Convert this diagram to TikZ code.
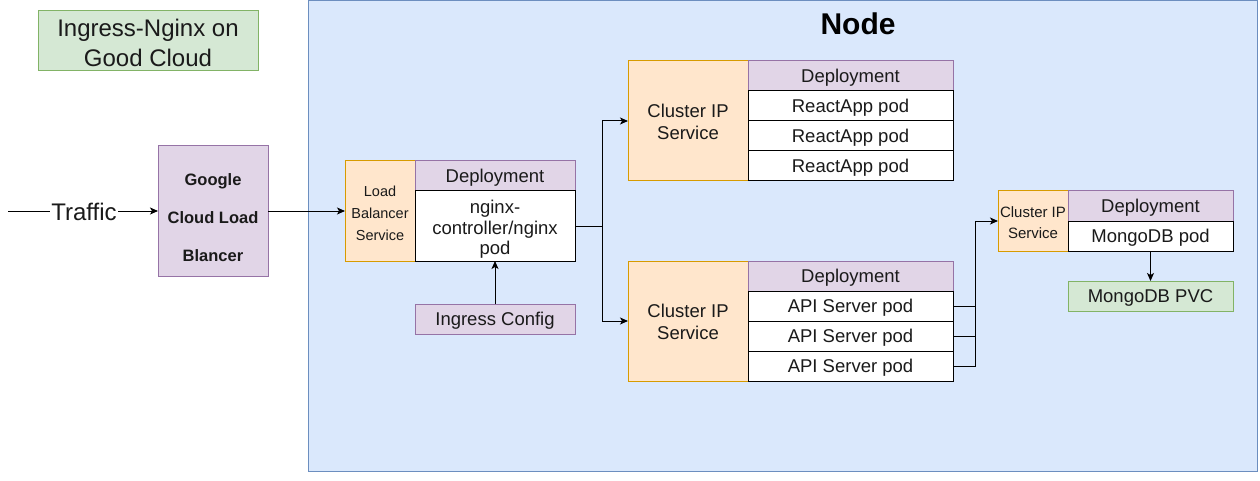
\documentclass[tikz,border=0pt]{standalone}
\usepackage{fontspec}
\setmainfont{Liberation Sans}
\usetikzlibrary{arrows.meta}
\definecolor{nodefill}{HTML}{DAE8FC}
\definecolor{nodeline}{HTML}{6C8EBF}
\definecolor{greenfill}{HTML}{D5E8D4}
\definecolor{greenline}{HTML}{82B366}
\definecolor{purplefill}{HTML}{E1D5E7}
\definecolor{purpleline}{HTML}{9673A6}
\definecolor{orangefill}{HTML}{FFE6CC}
\definecolor{orangeline}{HTML}{D79B00}
\definecolor{txt}{HTML}{1A1A1A}
\tikzset{
  base/.style={rectangle, inner sep=0pt, outer sep=0pt, anchor=north west, line width=1pt,
    align=center, text=txt, font=\fontsize{18.5}{21}\selectfont, text height=17.5pt},
  greenbox/.style={base, fill=greenfill, draw=greenline},
  purplebox/.style={base, fill=purplefill, draw=purpleline},
  orangebox/.style={base, fill=orangefill, draw=orangeline},
  podbox/.style={base, fill=white, draw=black},
  conn/.style={line width=1pt, draw=black, -{Stealth[length=8pt,width=7pt,inset=2pt]}},
  wire/.style={line width=1pt, draw=black},
}
\begin{document}
\begin{tikzpicture}[x=1pt,y=-1pt]
\useasboundingbox (0,0) rectangle (1260,481);
\fill[white] (0,0) rectangle (1260,481);
% container
\node[base, fill=nodefill, draw=nodeline, minimum width=949pt, minimum height=470pt] (nodebox) at (308,1) {};
\node[text=black, font=\fontsize{30}{34}\bfseries\selectfont] (nodetitle) at (858,24) {Node};
% title
\node[greenbox, minimum width=220pt, minimum height=60pt, font=\fontsize{24}{30}\selectfont, text height=50.5pt] (title) at (38,11) {Ingress-Nginx on\\Good Cloud};
% google
\node[purplebox, minimum width=110pt, minimum height=130pt, font=\fontsize{16.5}{38}\bfseries\selectfont, text height=102pt] (google) at (158,146) {Google\\Cloud Load\\Blancer};
% LB service + deployment
\node[orangebox, minimum width=70pt, minimum height=100pt, font=\fontsize{14.5}{22}\selectfont, text height=58.6pt] (lbsvc) at (345,161) {Load\\Balancer\\Service};
\node[purplebox, minimum width=160pt, minimum height=30pt] (dep0) at (415,161) {Deployment};
\node[podbox, minimum width=160pt, minimum height=70pt, font=\fontsize{18.5}{20.5}\selectfont, text height=61pt] (nginxpod) at (415,191) {nginx-\\controller/nginx\\pod};
\node[purplebox, minimum width=160pt, minimum height=30pt] (ingress) at (415,304) {Ingress Config};
% cluster IP 1
\node[orangebox, minimum width=120pt, minimum height=120pt, font=\fontsize{18.5}{22}\selectfont, text height=37.5pt] (cip1) at (628,61) {Cluster IP\\Service};
\node[purplebox, minimum width=205pt, minimum height=30pt] (dep1) at (748,61) {Deployment};
\node[podbox, minimum width=205pt, minimum height=30pt] (react1) at (748,91) {ReactApp pod};
\node[podbox, minimum width=205pt, minimum height=30pt] (react2) at (748,121) {ReactApp pod};
\node[podbox, minimum width=205pt, minimum height=30pt] (react3) at (748,151) {ReactApp pod};
% cluster IP 2
\node[orangebox, minimum width=120pt, minimum height=120pt, font=\fontsize{18.5}{22}\selectfont, text height=37.5pt] (cip2) at (628,261) {Cluster IP\\Service};
\node[purplebox, minimum width=205pt, minimum height=30pt] (dep2) at (748,261) {Deployment};
\node[podbox, minimum width=205pt, minimum height=30pt] (api1) at (748,291) {API Server pod};
\node[podbox, minimum width=205pt, minimum height=30pt] (api2) at (748,321) {API Server pod};
\node[podbox, minimum width=205pt, minimum height=30pt] (api3) at (748,351) {API Server pod};
% cluster IP 3
\node[orangebox, minimum width=70pt, minimum height=60pt, font=\fontsize{15}{21}\selectfont, text height=35.9pt] (cip3) at (998,191) {Cluster IP\\Service};
\node[purplebox, minimum width=165pt, minimum height=30pt] (dep3) at (1068,191) {Deployment};
\node[podbox, minimum width=165pt, minimum height=30pt] (mongopod) at (1068,221) {MongoDB pod};
\node[greenbox, minimum width=165pt, minimum height=30pt] (pvc) at (1068,281) {MongoDB PVC};
% connectors
\coordinate (trafficstart) at (8,211);
\draw[conn] (trafficstart) -- (google.west |- trafficstart);
\node[fill=white, inner sep=1pt, text=txt, font=\fontsize{24}{28}\selectfont] (traffic) at (84,212) {Traffic};
\draw[conn] (google.east) -- (lbsvc.west);
\draw[conn] (ingress.north) -- (nginxpod.south);
\draw[conn] (nginxpod.east) -- ++(27,0) |- (cip1.west);
\draw[conn] (nginxpod.east) -- ++(27,0) |- (cip2.west);
\draw[conn] (api1.east) -- ++(22,0) |- (cip3.west);
\draw[wire] (api2.east) -- ++(22,0);
\draw[wire] (api3.east) -- ++(22,0) -- ++(0,-60);
\draw[conn] (mongopod.south) -- (pvc.north);
\end{tikzpicture}
\end{document}
